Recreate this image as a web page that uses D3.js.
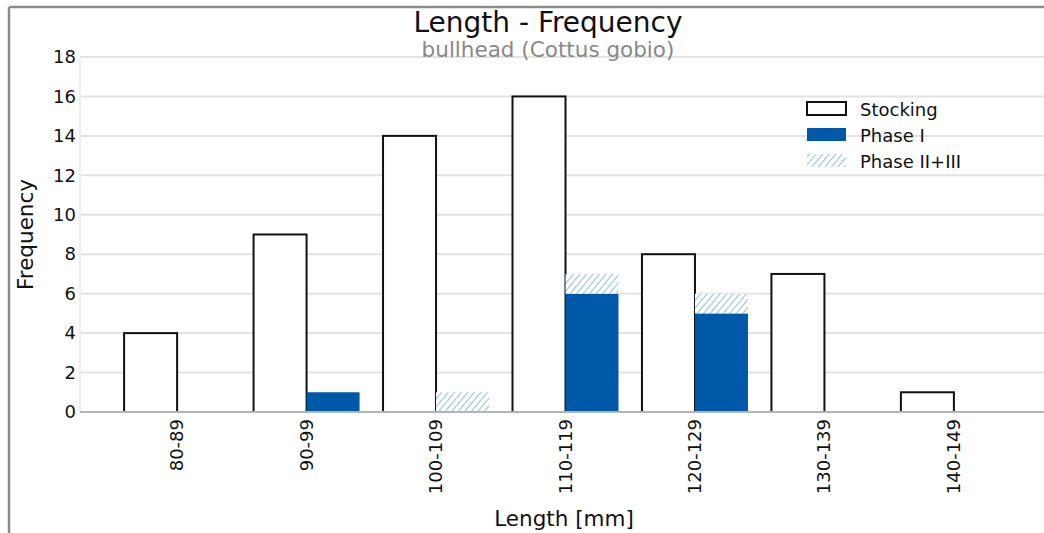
<!DOCTYPE html>
<html>
<head>
<meta charset="utf-8">
<script src="https://cdn.jsdelivr.net/npm/d3@7"></script>
<style>
  body { margin: 0; background: #fff; }
  svg { display: block; font-family: "DejaVu Sans", sans-serif; }
</style>
</head>
<body>
<svg id="chart" width="1044" height="533"></svg>
<script>
const categories = ["80-89", "90-99", "100-109", "110-119", "120-129", "130-139", "140-149"];
const stocking = [4, 9, 14, 16, 8, 7, 1];
const phase1 = [0, 1, 0, 6, 5, 0, 0];
const phase23 = [0, 0, 1, 1, 1, 0, 0];
const yTicks = [0, 2, 4, 6, 8, 10, 12, 14, 16, 18];
const legendItems = ["Stocking", "Phase I", "Phase II+III"];

const width = 1044;
const height = 533;
const margin = { top: 57, right: -7, bottom: 121, left: 80 };
const barWidth = 53;
const blue = "#0058a8";

const svg = d3.select("#chart");

// hatch pattern for Phase II+III
const defs = svg.append("defs");
defs
  .append("pattern")
  .attr("id", "hatch")
  .attr("patternUnits", "userSpaceOnUse")
  .attr("width", 5)
  .attr("height", 5)
  .attr("patternTransform", "rotate(40)")
  .call((p) => p.append("rect").attr("width", 5).attr("height", 5).attr("fill", "#fff"))
  .call((p) =>
    p.append("line").attr("x1", 0).attr("y1", 0).attr("x2", 0).attr("y2", 5).attr("stroke", "#94bde4").attr("stroke-width", 2)
  );

// outer frame (cut at right/bottom)
svg.append("line").attr("x1", 9).attr("x2", width).attr("y1", 7).attr("y2", 7).attr("stroke", "#8c8c8c").attr("stroke-width", 2.5);
svg.append("line").attr("x1", 9).attr("x2", 9).attr("y1", 7).attr("y2", height).attr("stroke", "#8c8c8c").attr("stroke-width", 2.5);

const x = d3
  .scaleBand()
  .domain(categories)
  .range([margin.left, width - margin.right])
  .paddingOuter(0.25)
  .paddingInner(0);

const y = d3
  .scaleLinear()
  .domain([0, 18])
  .range([height - margin.bottom, margin.top]);

const center = (c) => x(c) + x.bandwidth() / 2;

// grid
svg
  .append("g")
  .selectAll("line")
  .data(yTicks.filter((t) => t > 0))
  .join("line")
  .attr("x1", margin.left)
  .attr("x2", width)
  .attr("y1", (d) => y(d))
  .attr("y2", (d) => y(d))
  .attr("stroke", "#e3e3e3")
  .attr("stroke-width", 2);

svg
  .append("line")
  .attr("x1", margin.left)
  .attr("x2", margin.left)
  .attr("y1", y(18))
  .attr("y2", y(0))
  .attr("stroke", "#eeeeee")
  .attr("stroke-width", 2);

const yAxis = (g) =>
  g
    .attr("transform", `translate(${margin.left},0)`)
    .call(d3.axisLeft(y).tickValues(yTicks).tickSize(0).tickPadding(4))
    .call((g) => g.select(".domain").remove())
    .call((g) => g.selectAll(".tick text").style("font-size", "18px").attr("fill", "#111").attr("font-family", "DejaVu Sans"));

svg.append("g").call(yAxis);

// stocking bars
svg
  .append("g")
  .selectAll("rect")
  .data(categories)
  .join("rect")
  .attr("x", (d) => center(d) - barWidth)
  .attr("y", (d, i) => y(stocking[i]))
  .attr("width", barWidth)
  .attr("height", (d, i) => y(0) - y(stocking[i]))
  .attr("fill", "#fff")
  .attr("stroke", "#111")
  .attr("stroke-width", 2);

// phase I bars
svg
  .append("g")
  .selectAll("rect")
  .data(categories)
  .join("rect")
  .attr("x", (d) => center(d))
  .attr("y", (d, i) => y(phase1[i]))
  .attr("width", barWidth)
  .attr("height", (d, i) => y(0) - y(phase1[i]))
  .attr("fill", blue);

// phase II+III stacked on phase I
svg
  .append("g")
  .selectAll("rect")
  .data(categories)
  .join("rect")
  .attr("x", (d) => center(d))
  .attr("y", (d, i) => y(phase1[i] + phase23[i]))
  .attr("width", barWidth)
  .attr("height", (d, i) => y(phase1[i]) - y(phase1[i] + phase23[i]))
  .attr("fill", "url(#hatch)");

// baseline
svg
  .append("line")
  .attr("x1", margin.left)
  .attr("x2", width)
  .attr("y1", y(0))
  .attr("y2", y(0))
  .attr("stroke", "#b4b4b4")
  .attr("stroke-width", 2);

// x tick labels, rotated
svg
  .append("g")
  .selectAll("text")
  .data(categories)
  .join("text")
  .attr("transform", (d) => `translate(${center(d) + 6},${y(0) + 7}) rotate(-90)`)
  .attr("text-anchor", "end")
  .attr("font-size", 18)
  .attr("fill", "#111")
  .text((d) => d);

// titles
svg.append("text").attr("x", 548).attr("y", 32).attr("text-anchor", "middle").attr("font-size", 28).attr("fill", "#111").text("Length - Frequency");
svg.append("text").attr("x", 548).attr("y", 57).attr("text-anchor", "middle").attr("font-size", 21.5).attr("fill", "#888").text("bullhead (Cottus gobio)");

// axis labels
svg.append("text").attr("x", 564).attr("y", 526).attr("text-anchor", "middle").attr("font-size", 21.5).attr("fill", "#111").text("Length [mm]");
svg
  .append("text")
  .attr("transform", `translate(33,${(y(0) + y(18)) / 2}) rotate(-90)`)
  .attr("text-anchor", "middle")
  .attr("font-size", 21.5)
  .attr("fill", "#111")
  .text("Frequency");

// legend
const legend = svg.append("g").attr("transform", "translate(807,102)");
const fills = ["#fff", blue, "url(#hatch)"];
legend
  .selectAll("rect")
  .data(legendItems)
  .join("rect")
  .attr("x", 0)
  .attr("y", (d, i) => i * 26)
  .attr("width", 39)
  .attr("height", 13)
  .attr("fill", (d, i) => fills[i])
  .attr("stroke", (d, i) => (i === 0 ? "#111" : "none"))
  .attr("stroke-width", 2);
legend
  .selectAll("text")
  .data(legendItems)
  .join("text")
  .attr("x", 53)
  .attr("y", (d, i) => i * 26 + 14)
  .attr("font-size", 18)
  .attr("fill", "#111")
  .text((d) => d);
</script>
</body>
</html>
